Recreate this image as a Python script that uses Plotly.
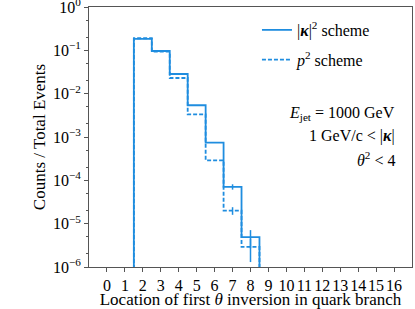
import plotly.graph_objects as go

# ---- data ----
bin_centers = [1, 2, 3, 4, 5, 6, 7, 8, 9]
kappa_vals = [0.0, 0.183, 0.0966, 0.0284, 0.0054, 7.4e-4, 7.1e-5, 4.9e-6, 0.0]
kappa_err = [0.0, 0.0, 0.0, 0.0, 0.0, 0.0, 1.0e-5, 2.2e-6, 0.0]
p2_vals = [0.0, 0.19, 0.093, 0.023, 0.00334, 2.9e-4, 2.0e-5, 2.9e-6, 0.0]
p2_err = [0.0, 0.0, 0.0, 0.0, 0.0, 0.0, 0.4e-5, 1.6e-6, 0.0]
x_ticks = list(range(0, 17))
y_ticks = [1e-6, 1e-5, 1e-4, 1e-3, 1e-2, 1e-1, 1]
y_ticklabels = ["10<sup>−6</sup>", "10<sup>−5</sup>", "10<sup>−4</sup>", "10<sup>−3</sup>",
                "10<sup>−2</sup>", "10<sup>−1</sup>", "10<sup>0</sup>"]

BLUE = "#1f8ddf"
FLOOR = 1e-12
FONT = "Liberation Serif"


def steps(centers, vals):
    xs, ys = [], []
    for c, v in zip(centers, vals):
        yv = v if v > 0 else FLOOR
        xs += [c - 0.5, c + 0.5]
        ys += [yv, yv]
    return xs, ys


fig = go.Figure()
for name, vals, errs, dash, grp in [
    ("|<b><i>κ</i></b>|<sup>2</sup> scheme", kappa_vals, kappa_err, "solid", "a"),
    ("<i>p</i><sup>2</sup> scheme", p2_vals, p2_err, "4px,2px", "b"),
]:
    xs, ys = steps(bin_centers, vals)
    fig.add_trace(go.Scatter(x=xs, y=ys, mode="lines", name=name, legendgroup=grp,
                             line=dict(color=BLUE, width=1.8, dash=dash)))
    ex = [c for c, e in zip(bin_centers, errs) if e > 0]
    ey = [v for v, e in zip(vals, errs) if e > 0]
    ee = [e for e in errs if e > 0]
    fig.add_trace(go.Scatter(x=ex, y=ey, mode="markers", showlegend=False, legendgroup=grp,
                             marker=dict(size=1, color="rgba(0,0,0,0)"),
                             error_y=dict(type="data", array=ee, visible=True,
                                          color=BLUE, thickness=1.5, width=0)))

axis_common = dict(showline=True, linecolor="#555555", linewidth=1, mirror=True,
                   showgrid=False, zeroline=False, ticks="outside", tickcolor="#555555",
                   automargin=False, ticklabeloverflow="allow")

fig.update_xaxes(range=[-1, 17], tickvals=x_ticks, ticklen=4, tickangle=0,
                 tickfont=dict(family=FONT, size=16, color="black"),
                 title=dict(text="Location of first <i>θ</i> inversion in quark branch",
                            font=dict(family=FONT, size=17, color="black"), standoff=6),
                 **axis_common)
fig.update_yaxes(type="log", range=[-6, 0], tickvals=y_ticks, ticktext=y_ticklabels, ticklen=4,
                 tickfont=dict(family=FONT, size=16, color="black"),
                 minor=dict(ticks="outside", ticklen=2, tickcolor="#555555"),
                 title=dict(text="Counts / Total Events",
                            font=dict(family=FONT, size=17, color="black"), standoff=2),
                 **axis_common)

ann_font = dict(family=FONT, size=16, color="black")
for txt, yy in [("<i>E</i><sub>jet</sub> = 1000 GeV", 0.592),
                ("1 GeV/c < |<b><i>κ</i></b>|", 0.504),
                ("<i>θ</i><sup>2</sup> < 4", 0.415)]:
    fig.add_annotation(text=txt, x=0.9536, y=yy, xref="paper", yref="paper",
                       xanchor="right", yanchor="middle", showarrow=False, font=ann_font)

fig.update_layout(
    width=415, height=309,
    margin=dict(l=89, r=3, t=7, b=42),
    paper_bgcolor="white", plot_bgcolor="white",
    legend=dict(x=0.52, y=0.977, xanchor="left", yanchor="top",
                font=dict(family=FONT, size=16, color="black"),
                bgcolor="rgba(0,0,0,0)", traceorder="grouped", tracegroupgap=6),
)

fig.write_html("out.html", config={"displayModeBar": False},
               post_script="document.body.style.margin='0px';")
